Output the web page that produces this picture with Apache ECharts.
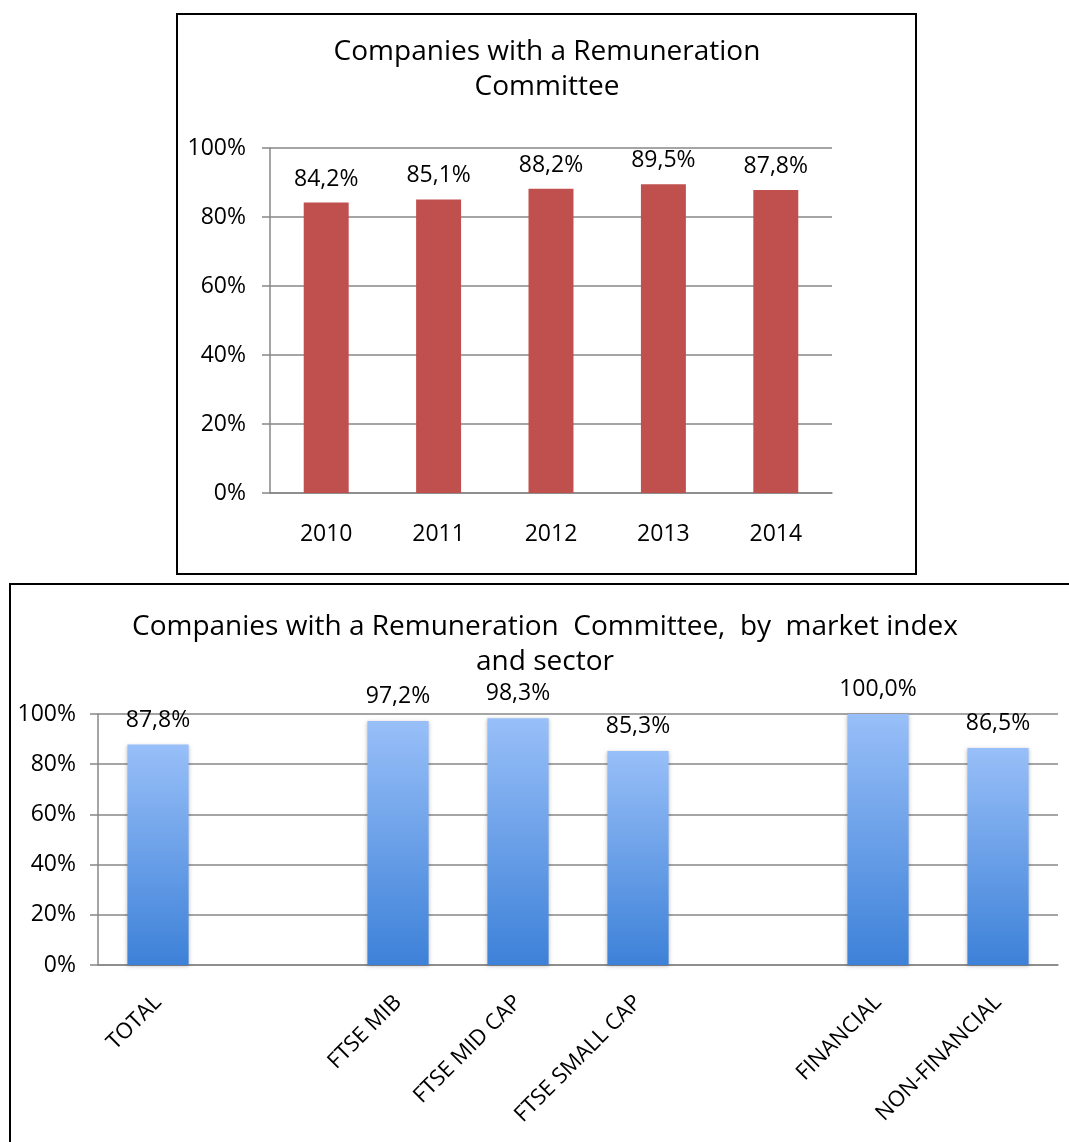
<!DOCTYPE html>
<html>
<head>
<meta charset="utf-8">
<script src="https://cdn.jsdelivr.net/npm/echarts@6/dist/echarts.min.js"></script>
<style>
  html, body { margin: 0; padding: 0; background: #fff; }
  #chart { width: 1069px; height: 1142px; }
</style>
</head>
<body>
<div id="chart"></div>
<script>
// Year-by-year share of companies with a remuneration committee
const years = ['2010', '2011', '2012', '2013', '2014'];
const yearValues = [84.2, 85.1, 88.2, 89.5, 87.8];

// 2014 breakdown by market index and sector (blank slots separate the groups)
const groups = ['TOTAL', ' ', 'FTSE MIB', 'FTSE MID CAP', 'FTSE SMALL CAP', '  ', 'FINANCIAL', 'NON-FINANCIAL'];
const groupValues = [87.8, null, 97.2, 98.3, 85.3, null, 100.0, 86.5];

// Percentage axis ticks
const pctMin = 0;
const pctMax = 100;
const pctStep = 20;

const FONT = 'Open Sans';
const GRID_GREY = '#878787';

const chart = echarts.init(document.getElementById('chart'), null, { renderer: 'canvas' });

const fmtPct = v => v.toFixed(1).replace('.', ',') + '%';

function valueAxis(gridIndex, margin) {
  return {
    type: 'value',
    gridIndex,
    min: pctMin,
    max: pctMax,
    interval: pctStep,
    axisLine: { show: true, lineStyle: { color: GRID_GREY, width: 1.5 } },
    axisTick: { show: true, length: 8, lineStyle: { color: GRID_GREY, width: 1.5 } },
    splitLine: { lineStyle: { color: GRID_GREY, width: 1.5 } },
    axisLabel: { formatter: '{value}%', color: '#000', fontFamily: FONT, fontSize: 23, margin }
  };
}

const option = {
  animation: false,
  backgroundColor: '#fff',
  grid: [
    { left: 270, top: 148, width: 562, height: 345 },
    { left: 98, top: 714, width: 960, height: 251 }
  ],
  xAxis: [
    {
      type: 'category',
      gridIndex: 0,
      data: years,
      axisLine: { lineStyle: { color: GRID_GREY, width: 1.5 } },
      axisTick: { length: 10, lineStyle: { color: GRID_GREY, width: 1.5 } },
      axisLabel: { color: '#000', fontFamily: FONT, fontSize: 23, margin: 30 }
    },
    {
      type: 'category',
      gridIndex: 1,
      data: groups,
      axisLine: { lineStyle: { color: GRID_GREY, width: 1.5 } },
      axisTick: { length: 10, interval: 0, lineStyle: { color: GRID_GREY, width: 1.5 } },
      axisLabel: { color: '#000', fontFamily: FONT, fontSize: 22, rotate: 45, interval: 0, margin: 34 }
    }
  ],
  yAxis: [valueAxis(0, 24), valueAxis(1, 22)],
  series: [
    {
      type: 'bar',
      xAxisIndex: 0,
      yAxisIndex: 0,
      data: yearValues,
      barWidth: '40%',
      itemStyle: { color: '#c0504d' },
      label: {
        show: true,
        position: 'top',
        distance: 12,
        color: '#000',
        fontFamily: FONT,
        fontSize: 23,
        formatter: p => fmtPct(p.value)
      }
    },
    {
      type: 'bar',
      xAxisIndex: 1,
      yAxisIndex: 1,
      data: groupValues,
      barWidth: '51%',
      itemStyle: {
        color: new echarts.graphic.LinearGradient(0, 0, 0, 1, [
          { offset: 0, color: '#98bff8' },
          { offset: 1, color: '#3d81d8' }
        ]),
        shadowBlur: 4,
        shadowColor: 'rgba(0,0,0,0.25)',
        shadowOffsetY: 1
      },
      label: {
        show: true,
        position: 'top',
        distance: 13,
        color: '#000',
        fontFamily: FONT,
        fontSize: 23,
        formatter: p => fmtPct(p.value)
      }
    }
  ],
  graphic: [
    {
      type: 'rect',
      shape: { x: 177, y: 14, width: 739, height: 560 },
      style: { fill: 'none', stroke: '#000', lineWidth: 2 },
      silent: true
    },
    {
      type: 'rect',
      shape: { x: 10, y: 584, width: 1100, height: 620 },
      style: { fill: 'none', stroke: '#000', lineWidth: 2 },
      silent: true
    },
    {
      type: 'text',
      x: 547,
      y: 35,
      style: {
        text: 'Companies with a Remuneration\nCommittee',
        fill: '#000',
        font: '28px "' + FONT + '"',
        align: 'center',
        lineHeight: 35
      }
    },
    {
      type: 'text',
      x: 545,
      y: 610,
      style: {
        text: 'Companies with a Remuneration  Committee,  by  market index\nand sector',
        fill: '#000',
        font: '28px "' + FONT + '"',
        align: 'center',
        lineHeight: 35
      }
    }
  ]
};

chart.setOption(option);
</script>
</body>
</html>
